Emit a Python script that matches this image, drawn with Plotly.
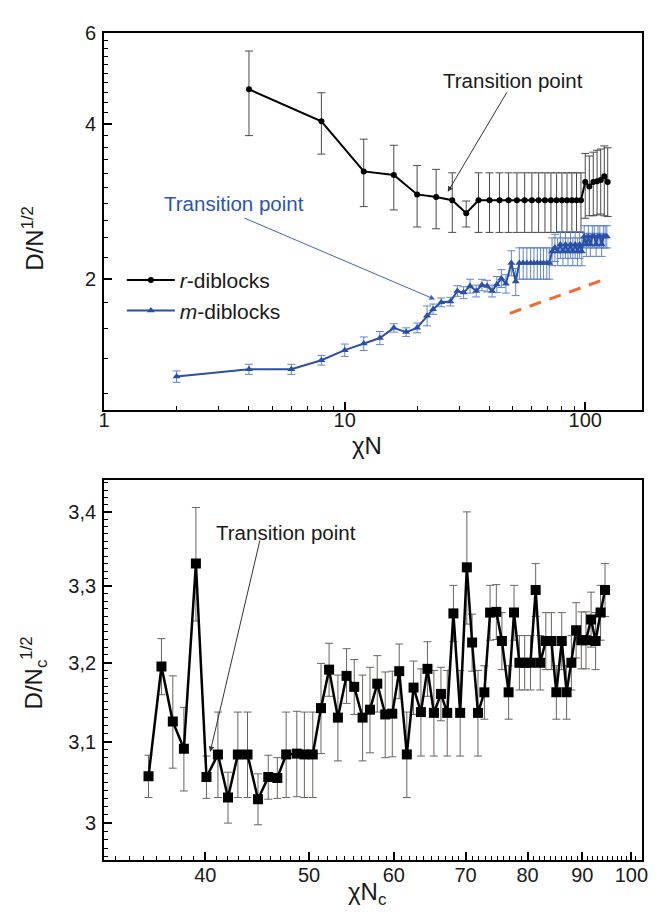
import plotly.graph_objects as go

W, H = 657, 912

# ---------------- top panel data ----------------
r_x = [4, 8, 12, 16, 20, 24, 28, 32,
       36, 40, 44, 48, 52, 56, 60, 64, 68, 72, 76, 80, 84, 88, 92, 96,
       100, 104, 108, 112, 116, 120, 124]
r_y = [4.66, 4.04, 3.23, 3.18, 2.915, 2.88, 2.84, 2.68,
       2.84, 2.84, 2.84, 2.84, 2.84, 2.84, 2.84, 2.84, 2.84, 2.84, 2.84, 2.84, 2.84, 2.84, 2.84, 2.84,
       3.08, 3.02, 3.08, 3.09, 3.11, 3.16, 3.08]
r_err_plus = [0.87, 0.55, 0.50, 0.45, 0.40, 0.38, 0.37, 0.15,
              0.37, 0.37, 0.37, 0.37, 0.37, 0.37, 0.37, 0.37, 0.37, 0.37, 0.37, 0.37, 0.37, 0.37, 0.37, 0.37,
              0.42, 0.44, 0.44, 0.46, 0.46, 0.46, 0.51]
r_err_minus = [0.87, 0.55, 0.47, 0.46, 0.395, 0.38, 0.38, 0.16,
               0.38, 0.38, 0.38, 0.38, 0.38, 0.38, 0.38, 0.38, 0.38, 0.38, 0.38, 0.38, 0.38, 0.38, 0.38, 0.38,
               0.46, 0.37, 0.43, 0.43, 0.44, 0.51, 0.44]

m_x = [2, 4, 6, 8, 10, 12, 14, 16, 18, 20, 22,
       23.3, 25.2, 27.5, 29.4, 31.2, 33.2, 35.2, 37.2, 39.1, 41.0, 42.9, 44.8, 46.8,
       49.3, 51.4, 53.2,
       55.2, 57.2, 59.3, 61.2, 63.2, 65.2, 67.1, 69.2, 70.9,
       72.8, 74.8, 76.8, 78.8, 80.8, 82.8, 84.8, 86.8, 88.8, 90.8, 92.8, 94.8, 96.8,
       99, 101, 103, 105, 107, 109, 111, 113, 115, 117, 119, 121, 123]
m_y = [1.292, 1.335, 1.335, 1.39, 1.454, 1.497, 1.535, 1.606, 1.576, 1.606, 1.696,
       1.746, 1.800, 1.806, 1.894, 1.880, 1.936, 1.894, 1.945, 1.936, 1.894, 1.950, 2.003, 1.956,
       2.146, 1.975, 2.146,
       2.146, 2.146, 2.146, 2.146, 2.146, 2.146, 2.146, 2.146, 2.146,
       2.26, 2.30, 2.26, 2.33, 2.26, 2.33, 2.26, 2.33, 2.26, 2.33, 2.26, 2.33, 2.26,
       2.415, 2.33, 2.415, 2.33, 2.415, 2.415, 2.33, 2.415, 2.415, 2.33, 2.415, 2.415, 2.415]
m_err = [0.033, 0.03, 0.03, 0.03, 0.04, 0.045, 0.045, 0.03, 0.03, 0.035, 0.075,
         0.04, 0.035, 0.035, 0.045, 0.05, 0.06, 0.05, 0.05, 0.05, 0.05, 0.07, 0.08, 0.08,
         0.12, 0.12, 0.15,
         0.15, 0.15, 0.15, 0.15, 0.15, 0.15, 0.15, 0.15, 0.15,
         0.14, 0.14, 0.14, 0.14, 0.14, 0.14, 0.14, 0.14, 0.14, 0.14, 0.14, 0.14, 0.14,
         0.12, 0.12, 0.12, 0.12, 0.12, 0.12, 0.12, 0.12, 0.12, 0.12, 0.12, 0.12, 0.12]

guide_x = [48.6, 117]
guide_y = [1.714, 1.985]

top_xticks = [1, 10, 100]
top_yticks = [2, 4, 6]

# ---------------- bottom panel data ----------------
c_x = [35.4, 36.4, 37.3, 38.2, 39.2, 40.1, 41.1, 42.0, 42.9, 43.8,
       44.8, 45.8, 46.7, 47.6, 48.7, 49.5, 50.4, 51.3, 52.2, 53.2,
       54.2, 55.1, 56.1, 57.0, 57.9, 58.9, 59.8, 60.7, 61.7, 62.6,
       63.6, 64.5, 65.4, 66.4, 67.3, 68.2, 69.2, 70.2, 71.0, 71.9,
       72.9, 73.8, 74.8, 75.7, 76.8, 77.7, 78.6, 79.5, 80.5, 81.4,
       82.2, 83.2, 84.2, 85.1, 86.1, 87.0, 87.9, 88.8, 89.8, 90.7,
       91.7, 92.6, 93.6, 94.5]
c_y = [3.057, 3.195, 3.125, 3.091, 3.330, 3.056, 3.084, 3.031, 3.084, 3.084,
       3.029, 3.056, 3.055, 3.084, 3.085, 3.084, 3.084, 3.142, 3.191, 3.130,
       3.183, 3.169, 3.130, 3.140, 3.173, 3.134, 3.135, 3.189, 3.084, 3.168,
       3.137, 3.192, 3.136, 3.160, 3.136, 3.264, 3.136, 3.325, 3.226, 3.136,
       3.162, 3.265, 3.266, 3.228, 3.162, 3.265, 3.200, 3.200, 3.200, 3.295,
       3.200, 3.228, 3.228, 3.162, 3.228, 3.162, 3.200, 3.242, 3.229, 3.229,
       3.256, 3.228, 3.265, 3.295]
c_err = [0.026, 0.036, 0.058, 0.052, 0.076, 0.026, 0.053, 0.031, 0.053, 0.053,
         0.031, 0.027, 0.025, 0.053, 0.053, 0.053, 0.053, 0.057, 0.034, 0.054,
         0.035, 0.035, 0.054, 0.054, 0.036, 0.054, 0.054, 0.035, 0.053, 0.034,
         0.055, 0.035, 0.054, 0.034, 0.054, 0.037, 0.054, 0.075, 0.037, 0.054,
         0.034, 0.036, 0.036, 0.037, 0.034, 0.036, 0.035, 0.035, 0.035, 0.035,
         0.035, 0.037, 0.037, 0.034, 0.037, 0.034, 0.035, 0.036, 0.037, 0.037,
         0.036, 0.037, 0.036, 0.035]

bot_xticks = [40, 50, 60, 70, 80, 90, 100]
bot_yticks = [3.0, 3.1, 3.2, 3.3, 3.4]
bot_yticklabels = ["3", "3,1", "3,2", "3,3", "3,4"]

FONT = "Liberation Sans, Arial, sans-serif"
BLUE = "#2a4fa6"
BLUE_ERR = "#5f84d2"

fig = go.Figure()

fig.add_trace(go.Scatter(
    x=r_x, y=r_y, mode="lines+markers", name="<i>r</i>-diblocks",
    line=dict(color="black", width=2),
    marker=dict(symbol="circle", size=6, color="black"),
    error_y=dict(type="data", symmetric=False, array=r_err_plus, arrayminus=r_err_minus,
                 color="#4a4a4a", thickness=1, width=4),
    xaxis="x", yaxis="y"))

fig.add_trace(go.Scatter(
    x=m_x, y=m_y, mode="lines+markers", name="<i>m</i>-diblocks",
    line=dict(color=BLUE, width=2),
    marker=dict(symbol="triangle-up", size=7, color=BLUE),
    error_y=dict(type="data", array=m_err, color=BLUE_ERR, thickness=1, width=4),
    xaxis="x", yaxis="y"))

fig.add_trace(go.Scatter(
    x=guide_x, y=guide_y, mode="lines", showlegend=False,
    line=dict(color="#f26a35", width=3, dash="12px,9px"),
    xaxis="x", yaxis="y"))

fig.add_trace(go.Scatter(
    x=c_x, y=c_y, mode="lines+markers", showlegend=False,
    line=dict(color="black", width=2.5),
    marker=dict(symbol="square", size=10, color="black"),
    error_y=dict(type="data", array=c_err, color="#6a6460", thickness=1, width=4),
    xaxis="x2", yaxis="y2"))

axis_common = dict(
    showline=True, linewidth=2, linecolor="black", mirror=True,
    showgrid=False, zeroline=False,
    ticks="inside", ticklen=8, tickwidth=1.5, tickcolor="black",
    tickfont=dict(family=FONT, size=20, color="#1a1a1a"),
)

def minor(vals):
    return dict(tickvals=vals, ticks="inside", ticklen=4, tickwidth=1.2,
                tickcolor="black", showgrid=False)

top_x_minor = [v for v in range(2, 10)] + [v for v in range(20, 100, 10)]
top_y_minor = [round(1.2 + 0.2 * i, 2) for i in range(24)]
top_y_minor = [v for v in top_y_minor if v not in (2.0, 4.0, 6.0)]
bot_x_minor = [v for v in range(33, 102) if v % 10 != 0]
bot_y_minor = [round(2.96 + 0.01 * i, 2) for i in range(49)]
bot_y_minor = [v for v in bot_y_minor if abs(v * 10 - round(v * 10)) > 1e-6]

xd = [100 / W, 648 / W]

fig.update_layout(
    width=W, height=H,
    margin=dict(l=0, r=0, t=0, b=0),
    paper_bgcolor="white", plot_bgcolor="white",
    font=dict(family=FONT, color="#1a1a1a"),
    xaxis=dict(type="log", domain=xd, anchor="y", range=[0, 2.2367],
               tickvals=top_xticks, ticktext=[str(v) for v in top_xticks],
               minor=minor(top_x_minor), ticklabelstandoff=-9, **axis_common),
    yaxis=dict(type="log", domain=[1 - 404 / H, 1 - 22 / H], anchor="x", range=[0.0462, 0.7782],
               tickvals=top_yticks, ticktext=[str(v) for v in top_yticks],
               minor=minor(top_y_minor), ticklabelstandoff=2, **axis_common),
    xaxis2=dict(type="log", domain=xd, anchor="y2", range=[1.5076, 2.0101],
                tickvals=bot_xticks, ticktext=[str(v) for v in bot_xticks],
                minor=minor(bot_x_minor), ticklabelstandoff=-4, **axis_common),
    yaxis2=dict(type="log", domain=[1 - 859 / H, 1 - 475 / H], anchor="x2", range=[0.47074, 0.5370],
                tickvals=bot_yticks, ticktext=bot_yticklabels,
                minor=minor(bot_y_minor), ticklabelstandoff=2, **axis_common),
    legend=dict(x=118 / W, y=1 - 252 / H, xanchor="left", yanchor="top",
                font=dict(family=FONT, size=21, color="#1a1a1a"),
                bgcolor="rgba(0,0,0,0)", borderwidth=0, tracegroupgap=0,
                itemwidth=48),
    showlegend=True,
)

def pannot(x, y, text, size=20.5, color="#1a1a1a", angle=0):
    fig.add_annotation(x=x / W, y=1 - y / H, xref="paper", yref="paper",
                       text=text, showarrow=False, textangle=angle,
                       font=dict(family=FONT, size=size, color=color),
                       xanchor="center", yanchor="middle")

def arrow(x_head, y_head, x_tail, y_tail, color):
    fig.add_annotation(x=x_head / W, y=1 - y_head / H, xref="paper", yref="paper",
                       ax=x_tail - x_head, ay=y_tail - y_head, axref="pixel", ayref="pixel",
                       text="", showarrow=True, arrowhead=2, arrowsize=1.1,
                       arrowwidth=1, arrowcolor=color)

# axis titles
pannot(28, 230, "D/N<sup>1/2</sup>", size=24, angle=-90)
pannot(368, 440, "χN", size=24)
pannot(28, 670, "D/N<sub>c</sub><sup>1/2</sup>", size=24, angle=-90)
pannot(368, 893, "χN<sub>c</sub>", size=24)

# transition point labels
pannot(516, 70, "Transition point")
arrow(450, 183, 510, 82, "#333333")
pannot(232, 195, "Transition point", color="#2b55b0")
arrow(437, 292, 245, 210, "#3a64c0")
pannot(285, 528, "Transition point")
arrow(208, 750, 258, 537, "#333333")

fig.write_html("out.html")
